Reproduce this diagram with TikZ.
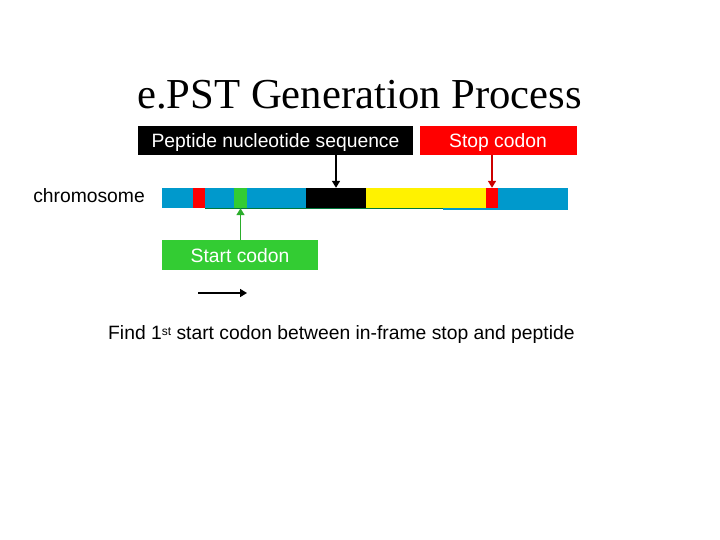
\documentclass[tikz,border=0pt]{standalone}
\usepackage{fontspec}
\setmainfont{Liberation Serif}
\newfontfamily\arialf{Liberation Sans}
\usetikzlibrary{arrows.meta}
\definecolor{chromblue}{RGB}{0,153,204}
\definecolor{startgreen}{RGB}{51,204,51}
\definecolor{darkred}{RGB}{204,0,0}
\definecolor{lineGreen}{RGB}{0,120,60}
\tikzset{
  seg/.style={draw=none, inner sep=0pt, minimum height=20pt, anchor=west},
  lbl/.style={inner sep=0pt, anchor=center, font=\arialf\fontsize{19.3}{21}\selectfont},
  tip/.style={-{Triangle[width=8pt,length=7pt]}, line width=1.6pt}
}
\begin{document}
\begin{tikzpicture}[x=1pt,y=-1pt]
\useasboundingbox (0,0) rectangle (720,540);
\fill[white] (0,0) rectangle (720,540);
% title
\node[inner sep=0pt, font=\fontsize{42.7}{46}\selectfont] (title) at (359.5,95) {e.PST Generation Process};
% label boxes
\fill[black] (138,126) rectangle (413,155);
\node[lbl, text=white] (pep) at (275.5,142.5) {Peptide nucleotide sequence};
\coordinate (pepbot) at (336,155);
\fill[red] (420,126) rectangle (577,155);
\node[lbl, text=white] (stop) at (498,142.5) {Stop codon};
\coordinate (stopbot) at (492,155);
% chromosome label
\node[lbl, anchor=east] (chromlbl) at (145,196) {chromosome};
% slight under-lines
\draw[lineGreen, line width=1pt] (205,208.5) -- (443,208.5);
\fill[chromblue] (443,190) rectangle (568,210);
% chromosome segments
\node[seg, fill=chromblue, minimum width=31pt] (b1) at (162,198) {};
\node[seg, fill=red, minimum width=12pt] (r1) at (193,198) {};
\node[seg, fill=chromblue, minimum width=29pt] (b2) at (205,198) {};
\node[seg, fill=startgreen, minimum width=13pt] (g1) at (234,198) {};
\node[seg, fill=chromblue, minimum width=59pt] (b3) at (247,198) {};
\node[seg, fill=black, minimum width=60pt] (pk) at (306,198) {};
\node[seg, fill=yellow, minimum width=120pt] (y1) at (366,198) {};
\node[seg, fill=red, minimum width=12pt] (r2) at (486,198) {};
\node[seg, fill=chromblue, minimum width=70pt] (b4) at (498,198) {};
% start codon box
\fill[startgreen] (162,240) rectangle (318,270);
\node[lbl, text=white] (start) at (240,256) {Start codon};
\coordinate (starttop) at (240.5,240);
% arrows
\draw[tip, black] (pepbot) -- (pepbot |- pk.north);
\draw[tip, darkred] (stopbot) -- (stopbot |- r2.north);
\draw[tip, startgreen!85!black] (starttop) -- (starttop |- g1.south);
\coordinate (da) at (198,293);
\coordinate (db) at (247,293);
\draw[tip, black] (da) -- (db);
% bottom text
\node[lbl, anchor=base west] (find) at (108,339.5) {Find 1{\fontsize{12}{12}\selectfont\raisebox{4pt}{st}} start codon between in-frame stop and peptide};
\end{tikzpicture}
\end{document}
